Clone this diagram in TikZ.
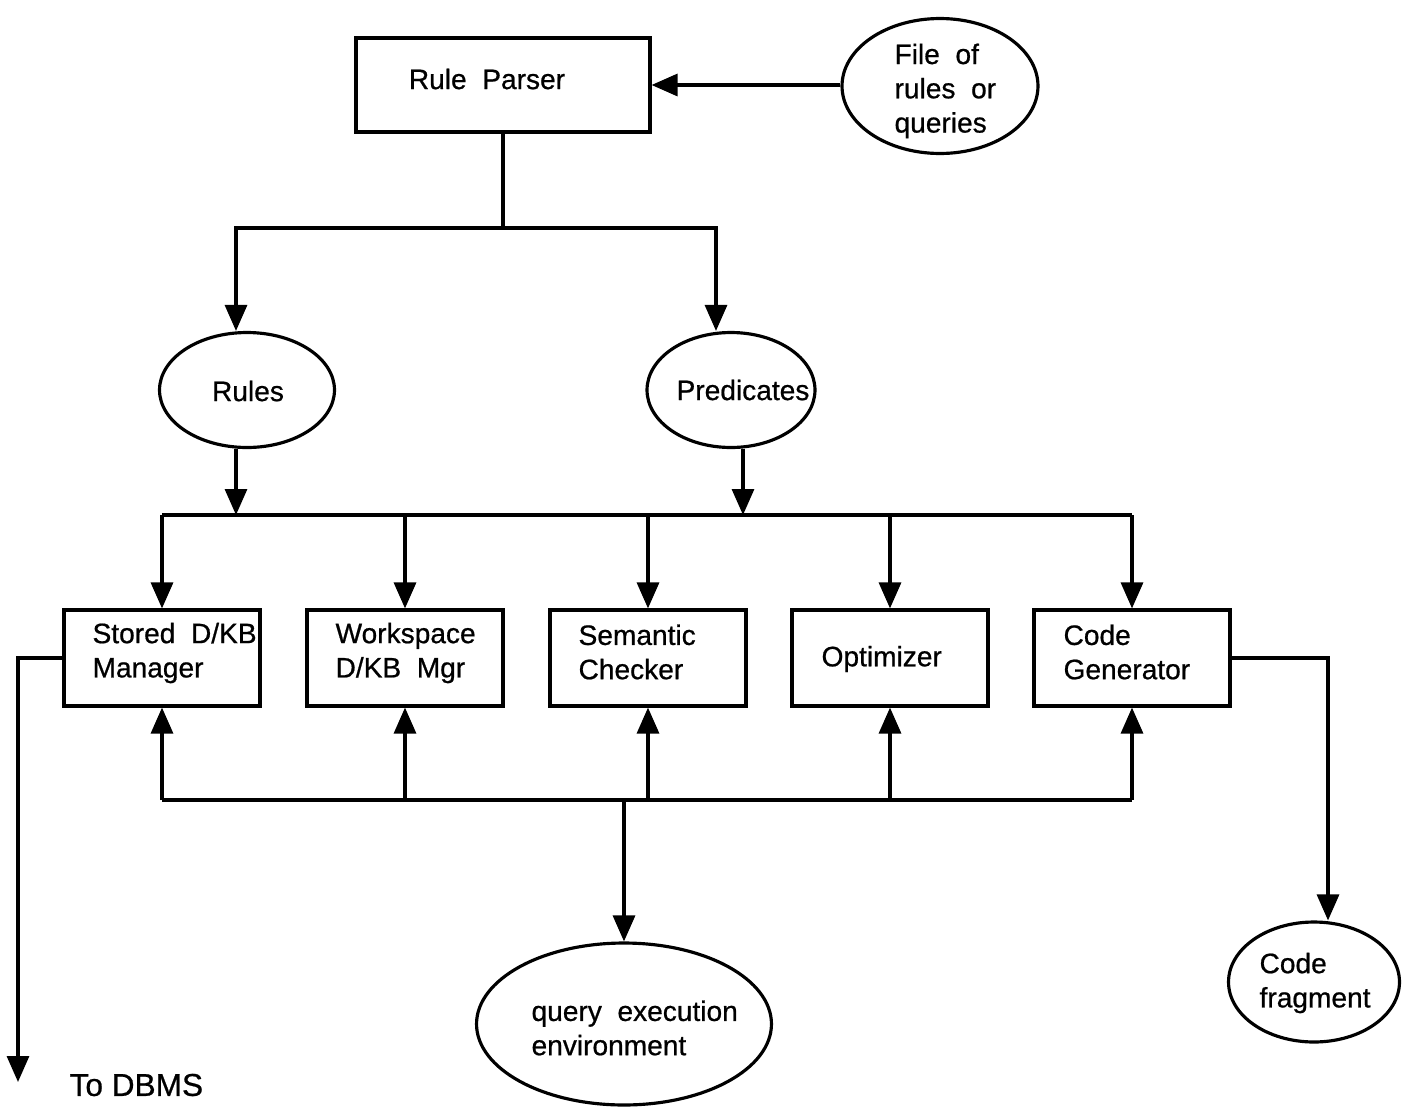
\documentclass[tikz,border=0pt]{standalone}
\usepackage{fontspec}
\setmainfont{Liberation Sans}[FakeBold=0.7]
\usetikzlibrary{arrows.meta,shapes.geometric}
\begin{document}
\begin{tikzpicture}[x=0.02cm,y=-0.02cm,line width=1.8pt,
  font=\fontsize{16}{19.5}\selectfont,
  box/.style={draw,rectangle,inner sep=0pt,minimum width=3.92cm,minimum height=1.92cm},
  ell/.style={draw,ellipse,inner sep=0pt},
  txt/.style={inner sep=0pt,align=left,anchor=west},
  arr/.style={-{Triangle[length=0.52cm,width=0.44cm]}}]
\useasboundingbox (0,0) rectangle (1403,1109);
% top
\node[box,minimum width=5.88cm,minimum height=1.88cm] (parser) at (503,85) {};
\node[inner sep=0pt] (tparser) at (487,79) {Rule\ \ Parser};
\node[ell,minimum width=3.92cm,minimum height=2.7cm] (fileq) at (940,86) {};
\node[txt] (tfile) at (893,91) {File\ \ of\\rules\ \ or\\queries};
\draw[arr] (fileq.west |- parser.east) -- (parser.east);
% split
\coordinate (s0) at (503,228);
\coordinate (sl) at (236,228);
\coordinate (sr) at (716,228);
\node[ell,minimum width=3.5cm,minimum height=2.3cm] (rules) at (247,390) {};
\node[inner sep=0pt] (trules) at (248,391) {Rules};
\node[ell,minimum width=3.36cm,minimum height=2.3cm] (preds) at (731,390) {};
\node[inner sep=0pt] (tpreds) at (743,390) {Predicates};
\draw (parser.south) -- (s0);
\draw[arr] (s0) -- (sl) -- (sl |- rules.north);
\draw[arr] (s0) -- (sr) -- (sr |- preds.north);
% bus 1
\coordinate (bus1) at (0,515);
\coordinate (rl) at (236,0);
\coordinate (pr) at (743,0);
\draw[arr] (rl |- rules.south) -- (rl |- bus1);
\draw[arr] (pr |- preds.south) -- (pr |- bus1);
% boxes
\node[box] (stored) at (162,658) {};
\node[box] (work) at (405,658) {};
\node[box] (sem) at (648,658) {};
\node[box] (opt) at (890,658) {};
\node[box] (codegen) at (1132,658) {};
\node[txt] (tstored) at (91,653) {Stored\ \ D/KB\\Manager};
\node[txt] (twork) at (334,653) {Workspace\\D/KB\ \ Mgr};
\node[txt] (tsem) at (577,652) {Semantic\\Checker};
\node[txt] (topt) at (820,659) {Optimizer};
\node[txt] (tcode) at (1062,652) {Code\\Generator};
\draw (stored.north |- bus1) -- (codegen.north |- bus1);
\foreach \b in {stored,work,sem,opt,codegen}{
  \draw[arr] (\b.north |- bus1) -- (\b.north);
}
% bus 2
\coordinate (bus2) at (0,800);
\draw (stored.south |- bus2) -- (codegen.south |- bus2);
\foreach \b in {stored,work,sem,opt,codegen}{
  \draw[arr] (\b.south |- bus2) -- (\b.south);
}
\node[ell,minimum width=5.9cm,minimum height=3.24cm] (query) at (624,1024) {};
\node[txt] (tquery) at (530,1028) {query\ \ execution\\environment};
\draw[arr] (query.north |- bus2) -- (query.north);
% code fragment
\node[ell,minimum width=3.42cm,minimum height=2.4cm] (cfrag) at (1314,982) {};
\node[txt] (tcfrag) at (1258,983) {Code\\fragment};
\coordinate (cf) at (1328,0);
\draw[arr] (codegen.east) -- (codegen.east -| cf) -- (cf |- cfrag.north);
% to DBMS
\coordinate (dbms) at (18,1082);
\draw[arr] (stored.west) -| (dbms);
\node[txt,font=\fontsize{18}{21}\selectfont] (tdbms) at (68,1085) {To DBMS};
\end{tikzpicture}
\end{document}
